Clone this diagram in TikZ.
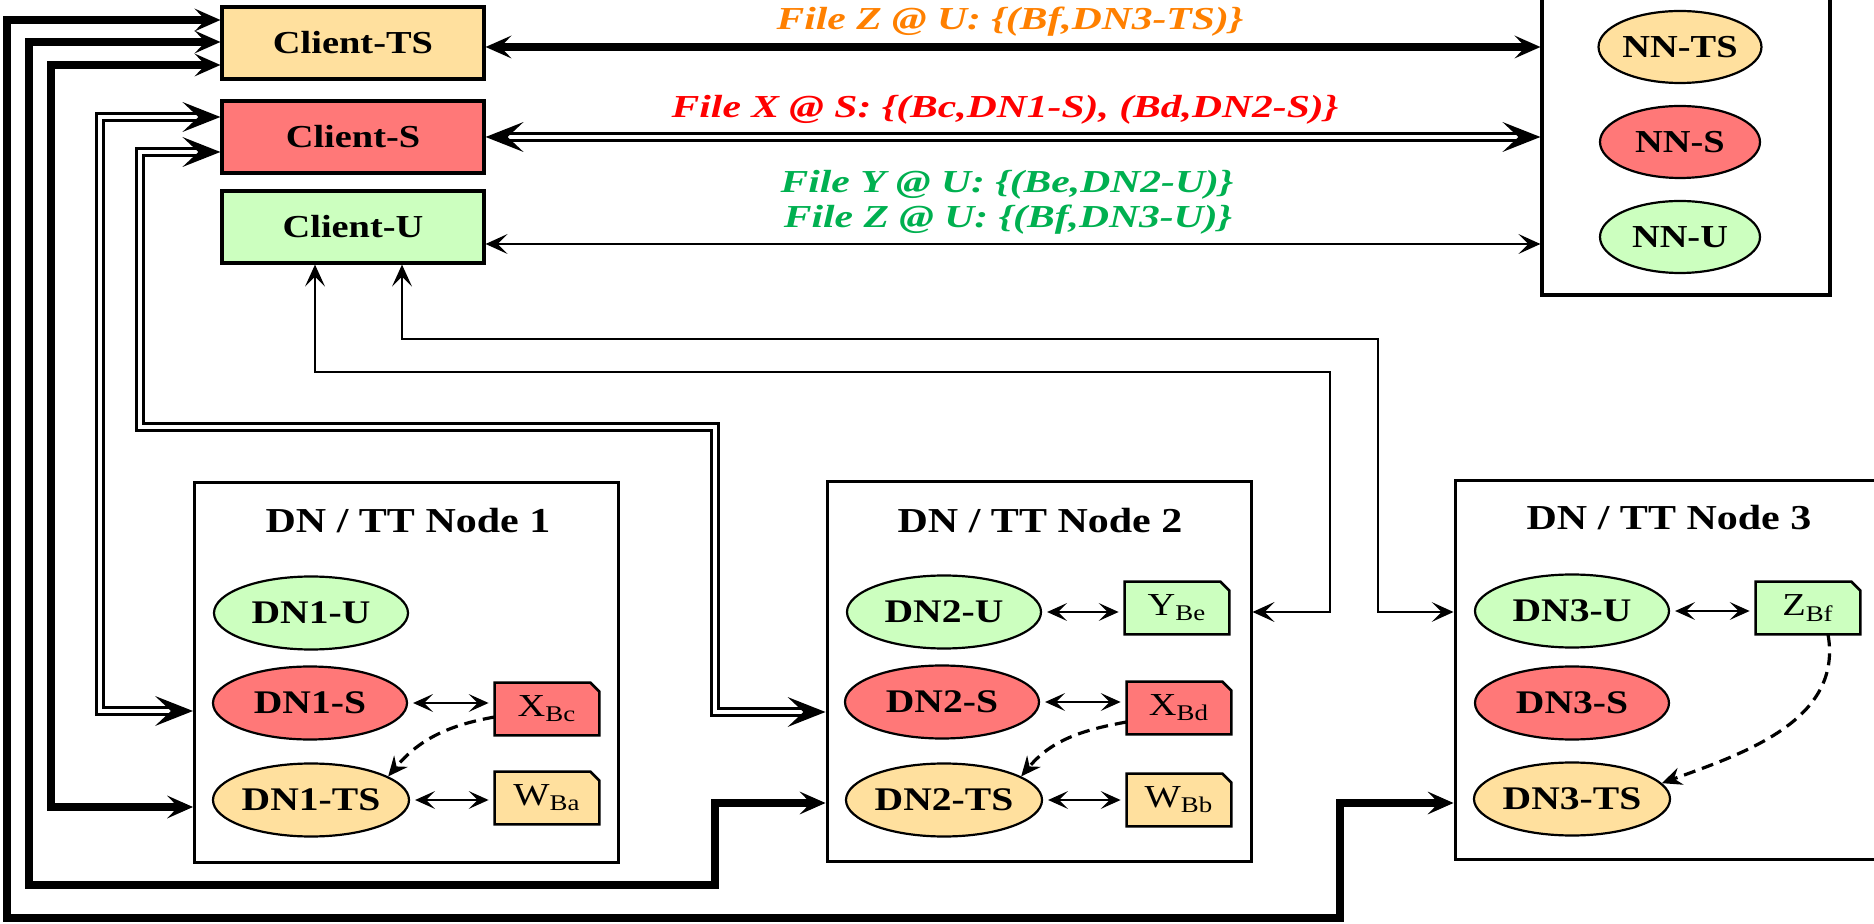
\documentclass[tikz,border=0pt]{standalone}
\usepackage{fontspec}
\setmainfont{Liberation Serif}[FakeStretch=1.2]
\newfontfamily\lblfont{Liberation Serif}[FakeStretch=1.3]
\usetikzlibrary{arrows.meta,shapes.geometric}

\definecolor{tsfill}{HTML}{FFE09E}
\definecolor{sfill}{HTML}{FF7878}
\definecolor{ufill}{HTML}{CCFFBF}
\definecolor{tstext}{HTML}{FF8000}
\definecolor{stext}{HTML}{FF0000}
\definecolor{utext}{HTML}{00B050}

\tikzset{
  client/.style={draw, line width=1.6pt, minimum width=131pt, minimum height=36pt,
    inner sep=0pt, font=\fontsize{16}{16}\selectfont\bfseries},
  svc/.style={ellipse, draw, line width=1.1pt, minimum width=97pt, minimum height=36.5pt,
    inner sep=0pt, font=\fontsize{16.5}{16.5}\selectfont\bfseries},
  nnsvc/.style={svc, minimum width=80pt, minimum height=36pt,
    font=\fontsize{16}{16}\selectfont\bfseries},
  hostbox/.style={draw, line width=1.5pt, minimum width=212pt, minimum height=189.5pt, inner sep=0pt},
  boxtitle/.style={anchor=base, font=\fontsize{17.5}{17.5}\selectfont\bfseries},
  filebase/.style={minimum width=52pt, minimum height=26pt, inner sep=0pt},
  fileline/.style={draw, line width=1.3pt, line join=miter},
  filetext/.style={inner sep=0pt, font=\fontsize{16}{16}\selectfont},
  lbl/.style={anchor=base, inner sep=0pt, font=\fontsize{16}{16}\lblfont\bfseries\itshape},
  thickconn/.style={line width=3.75pt, <->,
    >={Stealth[length=13pt,width=11.5pt,inset=5.5pt,line width=0pt]}},
  dblconn/.style={line width=1.5pt, double, double distance=2pt, <->,
    >={Stealth[length=19pt,width=15pt,inset=8pt,line width=0pt]}},
  thinconn/.style={line width=1.3pt, <->,
    >={Stealth[length=11pt,width=10pt,inset=5pt,line width=0pt]}},
  shortconn/.style={line width=1.3pt, <->, shorten <=2.5pt, shorten >=3pt,
    >={Stealth[length=10pt,width=9pt,inset=4.5pt,line width=0pt]}},
  dashconn/.style={line width=1.6pt, dash pattern=on 6pt off 3.5pt, ->,
    >={Stealth[length=10pt,width=9pt,inset=3.5pt,line width=0pt]}},
}

% file block: a box with its upper right corner cut off
\newcommand\filenode[4]{%
  \node[filebase] (#1) at (#2) {};
  \draw[fileline, fill=#3] (#1.south west) -- (#1.north west)
    -- ([xshift=-4.5pt]#1.north east) -- ([yshift=-4.5pt]#1.north east)
    -- (#1.south east) -- cycle;
  \node[filetext] (#1t) at (#1.center) {#4};
}

\begin{document}
\begin{tikzpicture}[x=0.5pt,y=-0.5pt]
\useasboundingbox (0,0) rectangle (1874,924);

% clients
\node[client, fill=tsfill] (cts) at (353,43) {Client-TS};
\node[client, fill=sfill]  (cs)  at (353,137) {Client-S};
\node[client, fill=ufill]  (cu)  at (353,227) {Client-U};

% name node
\node[draw, line width=1.6pt, minimum width=144pt, minimum height=150pt, inner sep=0pt] (nnbox) at (1686,145) {};
\node[nnsvc, fill=tsfill] (nnts) at (1680,47) {NN-TS};
\node[nnsvc, fill=sfill]  (nns)  at (1680,142) {NN-S};
\node[nnsvc, fill=ufill]  (nnu)  at (1680,237) {NN-U};

% data / task tracker hosts
\node[hostbox] (dn1box) at (406.5,672.5) {};
\node[hostbox] (dn2box) at (1039,671.5) {};
\node[hostbox] (dn3box) at (1667,670) {};
\node[boxtitle] (dn1title) at (408,533) {DN / TT Node 1};
\node[boxtitle] (dn2title) at (1040,533) {DN / TT Node 2};
\node[boxtitle] (dn3title) at (1669,530) {DN / TT Node 3};

\node[svc, fill=ufill]  (dn1u)  at (311,613) {DN1-U};
\node[svc, fill=sfill]  (dn1s)  at (310,703) {DN1-S};
\node[svc, fill=tsfill] (dn1ts) at (311,800) {DN1-TS};
\node[svc, fill=ufill]  (dn2u)  at (944,612) {DN2-U};
\node[svc, fill=sfill]  (dn2s)  at (942,702) {DN2-S};
\node[svc, fill=tsfill] (dn2ts) at (944,800) {DN2-TS};
\node[svc, fill=ufill]  (dn3u)  at (1572,611) {DN3-U};
\node[svc, fill=sfill]  (dn3s)  at (1572,703) {DN3-S};
\node[svc, fill=tsfill] (dn3ts) at (1572,799) {DN3-TS};

\filenode{xbc}{547,709}{sfill}{X\textsubscript{Bc}}
\filenode{wba}{547,798}{tsfill}{W\textsubscript{Ba}}
\filenode{ybe}{1177,608}{ufill}{Y\textsubscript{Be}}
\filenode{xbd}{1179,708}{sfill}{X\textsubscript{Bd}}
\filenode{wbb}{1179,800}{tsfill}{W\textsubscript{Bb}}
\filenode{zbf}{1808,608}{ufill}{Z\textsubscript{Bf}}

% client <-> name node
\coordinate (tsA) at ([yshift=-2pt]cts.east);
\coordinate (uA) at ([yshift=-8.5pt]cu.east);
\draw[thickconn] (tsA) -- (tsA -| nnbox.west);
\draw[dblconn] (cs.east) -- (cs.east -| nnbox.west);
\draw[thinconn] (uA) -- (uA -| nnbox.west);

\node[lbl, text=tstext] (lblts) at (1010,30) {File Z @ U: \{(Bf,DN3-TS)\}};
\node[lbl, text=stext]  (lbls)  at (1005,118) {File X @ S: \{(Bc,DN1-S), (Bd,DN2-S)\}};
\node[lbl, text=utext]  (lblu1) at (1007,193) {File Y @ U: \{(Be,DN2-U)\}};
\node[lbl, text=utext]  (lblu2) at (1008,228) {File Z @ U: \{(Bf,DN3-U)\}};

% TS client <-> hosts
\draw[thickconn] ([yshift=11.5pt]cts.west) -| (7,918) -| (1340,803) -- ([yshift=-66.5pt]dn3box.west);
\draw[thickconn] ([yshift=0.5pt]cts.west) -| (29,885) -| (715,803) -- ([yshift=-65.75pt]dn2box.west);
\draw[thickconn] ([yshift=-11pt]cts.west) -| (51,807) -- ([yshift=-67.25pt]dn1box.west);

% S client <-> hosts
\draw[dblconn] ([yshift=10pt]cs.west) -| (100,711) -- ([yshift=-19.25pt]dn1box.west);
\draw[dblconn] ([yshift=-7.5pt]cs.west) -| (140,427) -| (715,712) -- ([yshift=-20.25pt]dn2box.west);

% U client <-> hosts
\draw[thinconn] ([xshift=-19pt]cu.south) |- (1330,372) |- ([yshift=29.75pt]dn2box.east);
\draw[thinconn] ([xshift=24.5pt]cu.south) |- (1378,339) |- ([yshift=29pt]dn3box.west);

% services <-> blocks
\draw[shortconn] (dn1s.east) -- (dn1s.east -| xbc.west);
\draw[shortconn] (dn1ts.east) -- (dn1ts.east -| wba.west);
\draw[shortconn] (dn2u.east) -- (dn2u.east -| ybe.west);
\draw[shortconn] (dn2s.east) -- (dn2s.east -| xbd.west);
\draw[shortconn] (dn2ts.east) -- (dn2ts.east -| wbb.west);
\draw[shortconn] (dn3u.east) -- (dn3u.east -| zbf.west);

% block copies
\draw[dashconn] ([yshift=-4pt]xbc.west) to[out=190,in=50] (dn1ts.17);
\draw[dashconn] ([yshift=-7pt]xbd.west) to[out=190,in=50] (dn2ts.17);
\draw[dashconn] ([xshift=10pt]zbf.south) to[out=-80,in=20] (dn3ts.10);
\end{tikzpicture}
\end{document}
